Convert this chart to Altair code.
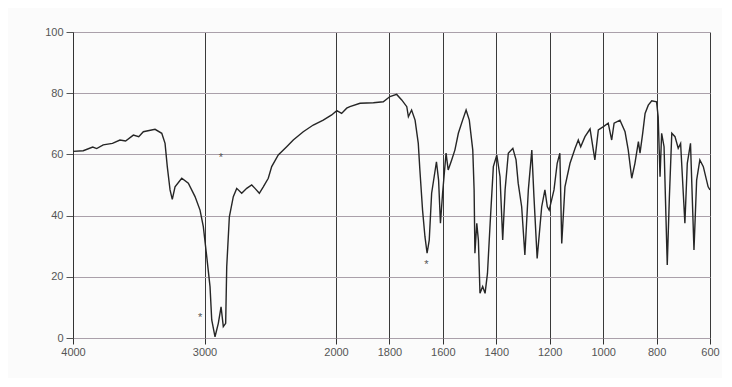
import altair as alt
import pandas as pd

# IR spectrum trace (wavenumber cm-1, %T)
wavenumber = [4000, 3922, 3850, 3820, 3770, 3700, 3643, 3600, 3541, 3500, 3465, 3376, 3325, 3300, 3283, 3262, 3245, 3224, 3173,
              3123, 3072, 3034, 3009, 2983, 2958, 2945, 2920, 2895, 2874, 2857, 2839, 2831, 2811,
              2781, 2755, 2717, 2679, 2641, 2616, 2583, 2553, 2515, 2489, 2439, 2375, 2325, 2249,
              2173, 2097, 2033, 1997, 1979, 1960, 1948, 1910, 1860, 1823, 1798, 1773, 1754, 1735,
              1729, 1717, 1704, 1692, 1686, 1676, 1667, 1659, 1651, 1642, 1624, 1616, 1609, 1601,
              1588, 1580, 1567, 1555, 1542, 1526, 1513, 1501, 1488, 1483, 1480, 1473, 1467, 1461,
              1451, 1442, 1433, 1423, 1411, 1398, 1386, 1376, 1367, 1355, 1338, 1326, 1318, 1305,
              1293, 1280, 1267, 1259, 1247, 1230, 1218, 1209, 1202, 1196, 1184, 1172, 1162, 1155,
              1143, 1124, 1105, 1093, 1084, 1068, 1049, 1031, 1018, 999, 981, 968, 959, 937,
              918, 906, 893, 881, 868, 862, 852, 843, 831, 818, 800, 794, 787, 781, 772, 760,
              752, 743, 731, 719, 710, 694, 685, 673, 660, 650, 638, 625, 607, 600]
transmittance = [61.0, 61.2, 62.4, 61.9, 63.1, 63.6, 64.7, 64.4, 66.3, 65.8, 67.4, 68.2, 66.9, 63.6, 56.0, 48.4, 45.3, 49.4, 52.2,
                 50.6, 46.2, 41.8, 36.4, 26.6, 16.8, 5.9, 0.4, 4.8, 10.2, 3.7, 4.8, 23.3, 39.6,
                 46.2, 48.9, 47.3, 48.9, 50.0, 48.9, 47.3, 49.4, 52.2, 56.0, 59.8, 62.5, 64.7, 67.4,
                 69.6, 71.2, 72.9, 74.3, 73.4, 75.1, 75.6, 76.7, 76.9, 77.2, 78.9, 79.6, 77.8, 75.6,
                 72.3, 74.5, 71.2, 63.6, 54.9, 41.8, 33.1, 27.7, 32.0, 47.3, 57.6, 51.6, 37.5, 47.3,
                 60.4, 54.9, 58.2, 61.4, 66.9, 71.2, 74.5, 71.2, 61.4, 48.4, 27.7, 37.5, 32.0, 14.6,
                 16.8, 14.6, 21.1, 37.5, 56.0, 59.8, 52.7, 32.0, 48.4, 60.4, 62.0, 58.2, 50.6, 42.9,
                 27.1, 48.4, 61.4, 46.2, 26.0, 42.9, 48.4, 42.9, 41.8, 44.0, 48.4, 57.1, 60.4, 30.9,
                 49.4, 57.1, 62.0, 64.7, 62.5, 65.8, 68.3, 58.2, 68.0, 69.1, 70.2, 64.7, 70.2, 71.2,
                 67.4, 61.4, 52.2, 57.1, 64.2, 60.4, 66.9, 73.4, 76.1, 77.5, 77.2, 72.3, 52.7, 66.9,
                 62.5, 23.9, 46.2, 66.9, 65.8, 62.0, 63.6, 37.5, 57.1, 63.6, 28.8, 51.6, 58.2, 56.0,
                 49.4, 48.4]

# asterisk annotations
star_wn = [2875, 3034, 1662]
star_t = [58.8, 6.5, 23.9]
star_text = ["*", "*", "*"]

x_ticks = [4000, 3000, 2000, 1800, 1600, 1400, 1200, 1000, 800, 600]
y_ticks = [0, 20, 40, 60, 80, 100]

spec = pd.DataFrame({"wn": wavenumber, "t": transmittance})
stars = pd.DataFrame({"wn": star_wn, "t": star_t, "s": star_text})

W, H = 637, 306
xscale = alt.Scale(domain=[4000, 2000, 600], range=[0, 263, W], nice=False, zero=False)
yscale = alt.Scale(domain=[0, 100], nice=False, zero=False)

xaxis = alt.Axis(values=x_ticks, title=None, grid=True, gridColor="#3a3a3a", gridWidth=1,
                 domain=False, ticks=True, tickSize=6, tickColor="#333", labelColor="#555",
                 labelFontSize=11, labelFont="Liberation Sans", labelPadding=2, format="d",
                 labelFlush=False, labelOverlap=False)
yaxis = alt.Axis(values=y_ticks, title=None, grid=True, gridColor="#aaa0aa", gridWidth=1.2,
                 domain=True, domainColor="#333", ticks=True, tickSize=7, tickColor="#555",
                 labelColor="#555", labelFontSize=11, labelFont="Liberation Sans", labelPadding=3,
                 labelFlush=False)

line = alt.Chart(spec).mark_line(color="#262626", strokeWidth=1.4).encode(
    x=alt.X("wn:Q", scale=xscale, axis=xaxis),
    y=alt.Y("t:Q", scale=yscale, axis=yaxis),
    order=alt.Order("wn:Q", sort="descending"),
)

star = alt.Chart(stars).mark_text(color="#555", fontSize=11, baseline="middle").encode(
    x=alt.X("wn:Q", scale=xscale), y=alt.Y("t:Q", scale=yscale), text="s:N"
)

chart = alt.layer(line, star).properties(
    width=W, height=H,
    autosize=alt.AutoSizeParams(type="none"),
    padding={"left": 65, "top": 24, "right": 12, "bottom": 40},
    background="#fbfbfb",
).configure_view(stroke=None)

chart.save("out.html", embed_options={"renderer": "svg", "actions": False})
